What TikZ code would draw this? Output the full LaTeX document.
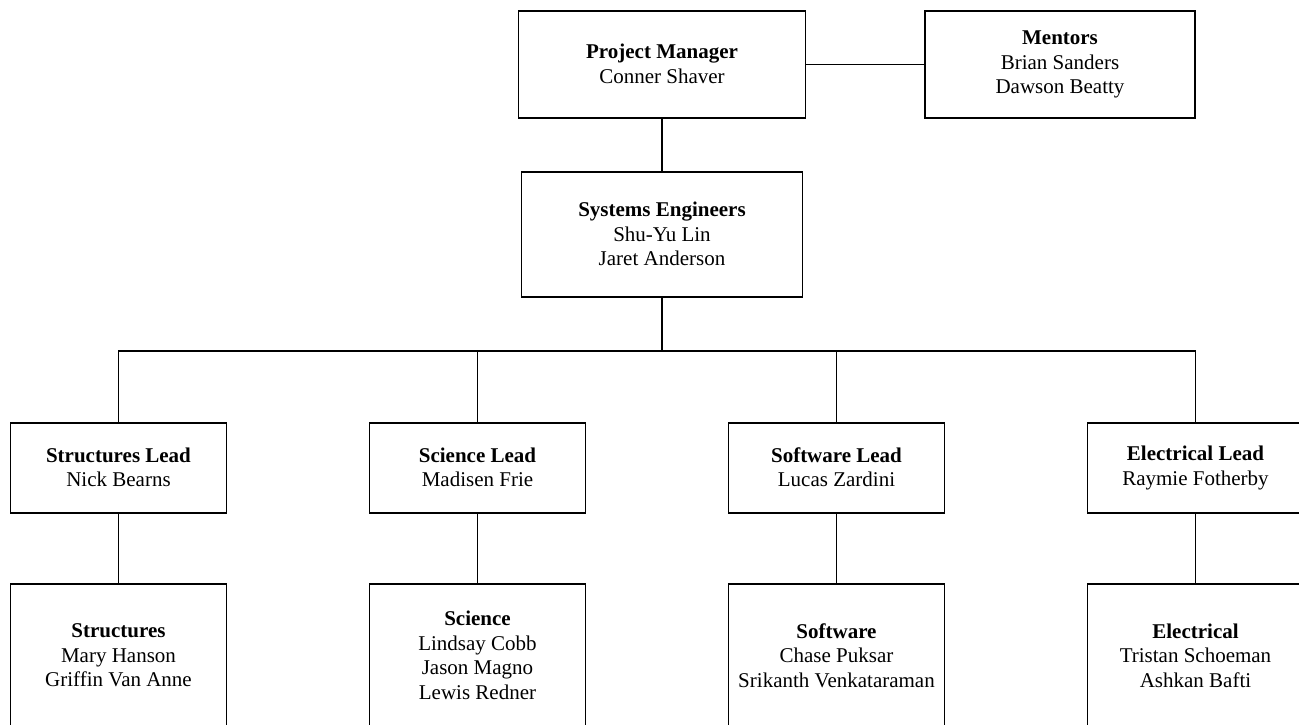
\documentclass[tikz,border=0pt]{standalone}
\usepackage{fontspec}
\setmainfont{Liberation Serif}
\newcommand{\boxstrut}{\rule[-2pt]{0pt}{22pt}}
\begin{document}
\begin{tikzpicture}[x=1pt,y=-1pt,
  box/.style={draw=black, line width=1.7pt, rectangle, align=center, inner sep=0pt,
    font=\fontsize{21}{24.5}\selectfont,
    execute at begin node=\boxstrut, execute at end node=\boxstrut},
  topbox/.style={box, minimum height=107.5pt},
  leadbox/.style={box, minimum width=216pt, minimum height=89.5pt},
  teambox/.style={box, minimum width=216pt, minimum height=144pt},
  conn/.style={draw=black, line width=1.7pt}]
\useasboundingbox (0,0) rectangle (1299,724);

\node[topbox, minimum width=287pt] (pm) at (662,64.5) {\textbf{Project Manager}\\Conner Shaver};
\node[topbox, minimum width=270pt] (mentors) at (1060,64.5) {\textbf{Mentors}\\Brian Sanders\\Dawson Beatty};
\node[box, minimum width=281pt, minimum height=125pt] (se) at (662,234.8) {\textbf{Systems Engineers}\\Shu-Yu Lin\\Jaret Anderson};

\node[leadbox] (stl) at (118.5,468) {\textbf{Structures Lead}\\Nick Bearns};
\node[leadbox] (scl) at (477.5,468) {\textbf{Science Lead}\\Madisen Frie};
\node[leadbox] (swl) at (836.5,468) {\textbf{Software Lead}\\Lucas Zardini};
\node[leadbox] (ell) at (1195.5,468) {\textbf{Electrical Lead}\\Raymie Fotherby};

\node[teambox] (st) at (118.5,656.3) {\textbf{Structures}\\Mary Hanson\\Griffin Van Anne};
\node[teambox] (sc) at (477.5,656.3) {\textbf{Science}\\Lindsay Cobb\\Jason Magno\\Lewis Redner};
\node[teambox] (sw) at (836.5,656.3) {\textbf{Software}\\Chase Puksar\\Srikanth Venkataraman};
\node[teambox] (el) at (1195.5,656.3) {\textbf{Electrical}\\Tristan Schoeman\\Ashkan Bafti};

\coordinate (bar) at (662,351);

\draw[conn] (pm.east) -- (mentors.west);
\draw[conn] (pm.south) -- (se.north);
\draw[conn] (se.south) -- (bar);
\draw[conn] (stl.north) -- (stl.north |- bar) -- (ell.north |- bar) -- (ell.north);
\draw[conn] (scl.north) -- (scl.north |- bar);
\draw[conn] (swl.north) -- (swl.north |- bar);

\draw[conn] (stl.south) -- (st.north);
\draw[conn] (scl.south) -- (sc.north);
\draw[conn] (swl.south) -- (sw.north);
\draw[conn] (ell.south) -- (el.north);
\end{tikzpicture}
\end{document}
